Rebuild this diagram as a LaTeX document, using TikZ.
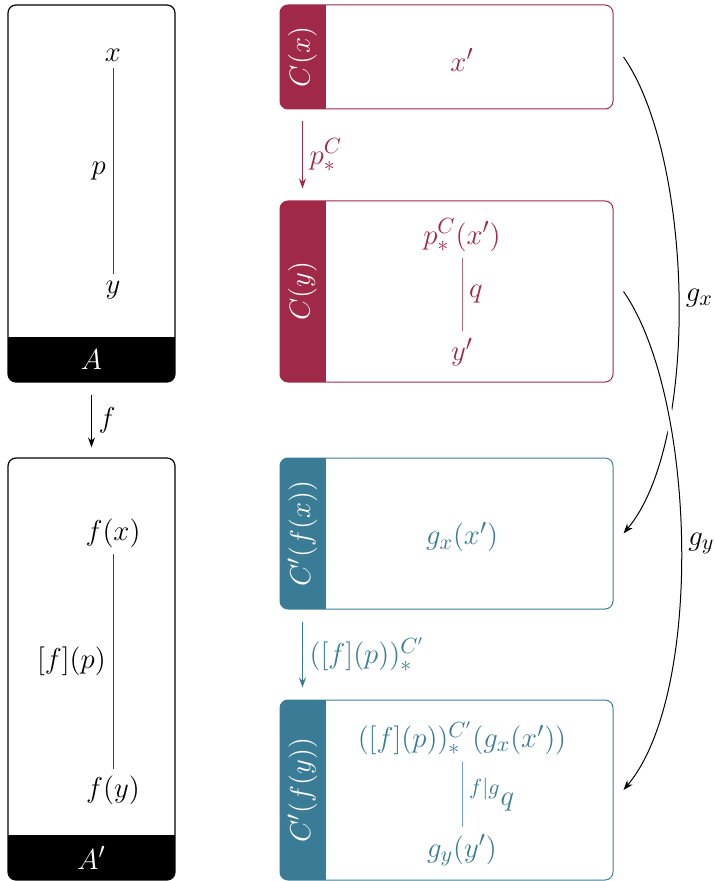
\documentclass[tikz,border=0pt]{standalone}
\usepackage{tikz}
\usetikzlibrary{arrows.meta, positioning, calc}
\definecolor{fibrered}{RGB}{160, 40, 72}
\definecolor{fibreblue}{RGB}{58, 124, 150}

\begin{document}
\begin{tikzpicture}[
    x=0.5pt, y=-0.5pt,
    font=\fontsize{15}{18}\selectfont,
    basebox/.style={draw, rounded corners=4pt, inner sep=0pt, line width=0.6pt, minimum width=83.5pt,
        path picture={\fill[sharp corners] (path picture bounding box.south west) rectangle ([yshift=22.5pt]path picture bounding box.south east);}},
    fibrebox/.style={draw=#1, rounded corners=4pt, inner sep=0pt, line width=0.5pt, minimum width=166.5pt,
        path picture={\fill[#1, sharp corners] (path picture bounding box.north west) rectangle ([xshift=23pt]path picture bounding box.south west);}},
    barlabel/.style={text=white, rotate=90},
    link/.style={line width=0.5pt, draw=#1},
    arrow/.style={-{Stealth[length=5pt, width=3.5pt]}, line width=0.5pt}
]
    \useasboundingbox (0,0) rectangle (715,881);

    % base categories
    \node[basebox, minimum height=188.5pt] (A) at (91.5,193.5) {};
    \node[basebox, minimum height=211pt] (A2) at (91.5,669) {};
    \node[text=white] (Alab) at ([yshift=11.25pt]A.south) {$A$};
    \node[text=white] (A2lab) at ([yshift=11.25pt]A2.south) {$A'$};

    \node (x) at (113,55) {$x$};
    \node (y) at (113,290) {$y$};
    \draw[link=black!75] (x) -- node[left, text=black] {$p$} (y);

    \node (fx) at (113,533) {$f(x)$};
    \node (fy) at (113,790) {$f(y)$};
    \draw[link=black!75] (fx) -- node[left, text=black] {$[f](p)$} (fy);

    \draw[arrow, shorten <=6pt, shorten >=5pt] (A) -- node[right] {$f$} (A2);

    % fibres
    \node[fibrebox=fibrered, minimum height=52pt] (Cx) at (446.5,57) {};
    \node[fibrebox=fibrered, minimum height=90.5pt] (Cy) at (446.5,291.5) {};
    \node[fibrebox=fibreblue, minimum height=75.5pt] (Cfx) at (446.5,533.5) {};
    \node[fibrebox=fibreblue, minimum height=90pt] (Cfy) at (446.5,790) {};

    \node[barlabel] (Cxlab) at ([xshift=11.5pt]Cx.west) {$C(x)$};
    \node[barlabel] (Cylab) at ([xshift=11.5pt]Cy.west) {$C(y)$};
    \node[barlabel] (Cfxlab) at ([xshift=11.5pt]Cfx.west) {$C'(f(x))$};
    \node[barlabel] (Cfylab) at ([xshift=11.5pt]Cfy.west) {$C'(f(y))$};

    \node[text=fibrered] (xp) at (462,60) {$x'$};
    \node[text=fibrered] (pxp) at (462,235) {$p^C_*(x')$};
    \node[text=fibrered] (yp) at (462,352) {$y'$};
    \draw[link=fibrered!70] (pxp) -- node[right, text=fibrered] {$q$} (yp);

    \node[text=fibreblue] (gxp) at (462,537) {$g_x(x')$};
    \node[text=fibreblue] (fpgx) at (462,738) {$([f](p))^{C'}_*(g_x(x'))$};
    \node[text=fibreblue] (gyp) at (462,850) {$g_y(y')$};
    \draw[link=fibreblue!70] (fpgx) -- node[right, text=fibreblue] {${}^{f|g}q$} (gyp);

    \draw[arrow, fibrered, shorten <=6pt, shorten >=6pt] ([xshift=11.5pt]Cx.south west) -- node[right] {$p^C_*$} ([xshift=11.5pt]Cy.north west);
    \draw[arrow, fibreblue, shorten <=6pt, shorten >=6pt] ([xshift=11.5pt]Cfx.south west) -- node[right] {$([f](p))^{C'}_*$} ([xshift=11.5pt]Cfy.north west);

    % transports
    \draw[arrow] ([xshift=5pt]Cx.east) to[out=-55, in=50, looseness=0.65] node[right] {$g_x$} ([xshift=5pt]Cfx.east);
    \draw[arrow, preaction={draw=white, line width=4pt, -}] ([xshift=5pt]Cy.east) to[out=-55, in=50, looseness=0.65] node[right] {$g_y$} ([xshift=5pt]Cfy.east);
\end{tikzpicture}
\end{document}
